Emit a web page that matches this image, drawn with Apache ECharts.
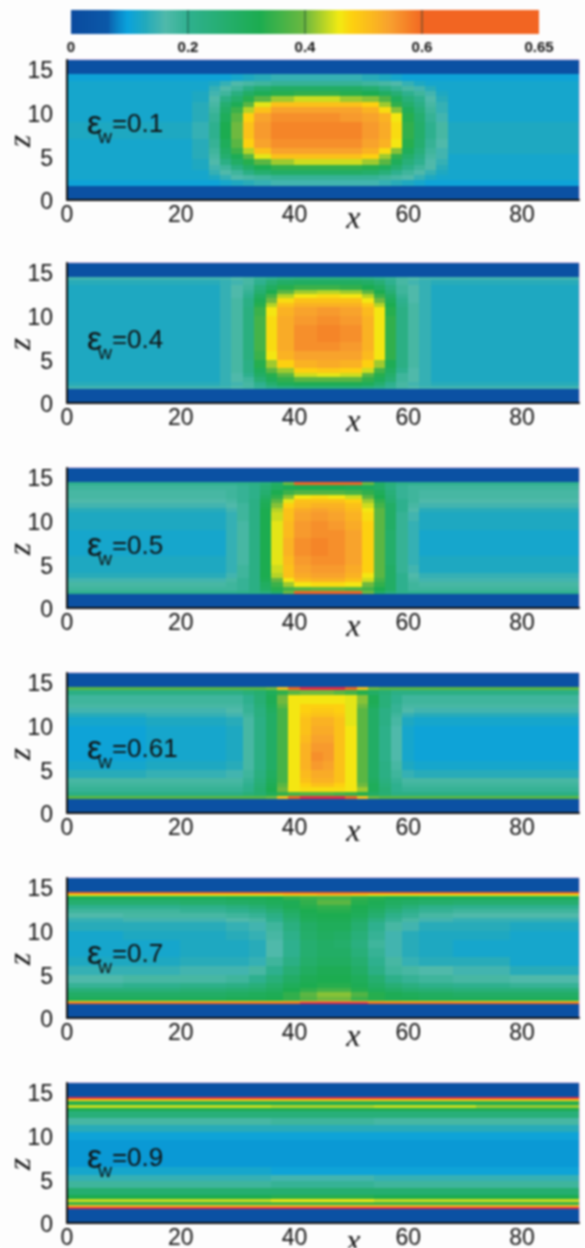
<!DOCTYPE html>
<html><head><meta charset="utf-8">
<style>html,body{margin:0;padding:0;background:#fdfdfd}#c{width:585px;height:1248px;filter:blur(0.9px)}</style>
<script src="https://cdn.jsdelivr.net/npm/echarts@6/dist/echarts.min.js"></script>
</head><body><div id="c"></div>
<script>
// colour scale (value → colour)
const scaleValues=[0,.06,.08,.095,.125,.16,.2,.32,.4,.456,.48,.544,.6,.65,.66];
const scaleColors=['#0a4a9e','#0b58a8','#0a86c8','#0aa2dc','#22a9bc','#4fb9aa','#2eb08e','#1cac50','#6fb93f','#f2ea12','#fdd010','#f8a02e','#f26522','#f26522','#e62a45'];
const barTickLabels=['0','0.2','0.4','0.6','0.65'];
const wallValue=3;
const panelLabels=['0.1','0.4','0.5','0.61','0.7','0.9'];
const panelTops=[60,263,468,673,878,1083];
const labelCentres=[123,339,545,748,953,1157];

const xE1=[0,22,25,27,29,31,33,36,40,44,48,52,55,57,59,61,63,65,67,90];
const zE1=[1.7,2.3,2.9,3.5,4.1,4.7,5.3,6,7,8,9,10,10.7,11.3,11.9,12.5,13.1,13.7,14.4];
const rows1=[
[10,10,10,11,12,13,14,15,15,15,15,15,14,13,12,11,10,10,10],
[11,11,12,14,16,17,18,19,19,19,19,19,18,17,16,14,12,11,11],
[11,11,14,16,18,22,26,28,28,28,28,27,24,20,18,16,14,12,11],
[11,12,15,18,23,28,32,34,34,34,34,33,30,26,21,18,16,13,11],
[11,12,16,22,28,33,38,42,44,44,44,42,38,30,24,20,16,14,11],
[11,13,17,26,31,38,45,50,50,50,50,48,42,34,27,22,17,15,11],
[11,13,18,28,35,43,50,54,54,54,54,52,47,41,30,24,18,15,12],
[11,13,19,30,38,48,54,56,56,56,56,54,52,46,33,26,19,16,12],
[12,14,20,32,40,50,55,57,57,57,57,55,53,47,34,27,20,17,12],
[12,14,20,32,40,50,55,57,57,57,57,55,53,47,34,27,20,17,12],
[11,13,19,30,38,48,54,56,56,56,55,54,52,46,33,26,19,15,11],
[11,13,18,28,35,43,50,54,54,54,54,52,47,41,30,24,18,14,11],
[11,13,17,26,31,38,45,50,50,50,50,48,42,34,27,22,17,14,11],
[11,12,16,22,27,33,38,42,44,44,42,41,37,30,24,20,16,13,11],
[11,12,15,18,23,28,31,33,34,34,33,32,29,25,20,18,15,12,11],
[11,11,14,16,18,22,26,28,28,28,28,26,22,19,17,15,13,11,11],
[11,11,12,14,16,17,18,19,19,19,19,18,17,16,14,12,11,11,11],
[10,10,10,10,11,12,13,14,14,14,14,13,12,11,10,10,10,10,10]];

const zE=[1.7,2,2.5,3,3.5,4,5,6,7,8,9,10,11,11.5,12,12.5,13,13.5,14.1,14.4];
const xE2=[0,27,29,31,33,35,37,40,44,48,52,54,56,58,60,62,64,90];
const rows2=[
[15,15,16,17,19,21,23,24,24,24,23,21,19,17,16,15,15],
[13,14,15,17,20,26,30,31,31,31,30,26,20,17,15,14,13],
[12,14,16,18,25,30,34,38,38,38,34,30,25,18,16,14,12],
[12,14,16,20,28,33,38,44,45,44,38,33,27,18,16,14,12],
[12,14,17,22,30,38,42,48,49,48,44,36,29,20,16,14,12],
[12,14,17,22,33,42,48,52,53,52,48,42,31,22,17,14,12],
[12,14,17,23,35,46,52,54,54,54,51,46,34,22,17,14,12],
[12,14,17,23,36,47,53,56,56,55,52,46,34,22,17,14,12],
[12,14,17,23,36,47,53,56,57,56,52,46,34,22,17,14,12],
[12,14,17,23,36,47,53,56,57,56,52,46,34,22,17,14,12],
[12,14,17,23,36,47,53,55,56,55,52,46,34,22,17,14,12],
[12,14,17,23,35,46,52,54,55,54,51,46,33,22,17,14,12],
[12,14,17,22,33,43,50,52,52,52,49,43,32,21,17,14,12],
[12,14,17,22,31,40,47,50,50,50,46,40,30,20,16,14,12],
[12,14,16,20,29,36,43,46,47,46,43,35,28,19,16,14,12],
[12,14,16,19,26,32,38,42,43,42,38,32,25,18,16,14,12],
[12,14,16,18,24,29,33,35,35,34,32,29,23,18,16,14,12],
[13,14,15,17,20,25,28,29,29,29,28,25,20,17,15,14,13],
[15,15,16,17,19,20,22,23,23,23,22,20,19,17,16,15,15]];

const xE3=[0,28,30,32,34,36,38,40,43,46,49,52,54,56,58,60,62,90];
const rows3=[
[20,20,21,22,24,28,40,60,62,62,60,40,28,24,21,20,20],
[18,18,19,22,28,33,36,37,38,38,37,36,32,28,20,18,18],
[17,18,19,22,29,35,42,46,47,47,46,40,34,28,20,18,17],
[15,17,19,22,31,39,46,51,52,52,50,44,36,28,20,17,15],
[13,15,18,22,32,43,50,53,54,54,52,46,38,28,20,16,14],
[12,14,18,22,32,44,50,54,55,55,53,48,38,28,19,15,12],
[12,14,17,22,32,45,51,55,56,56,54,48,38,27,19,14,12],
[11,14,17,22,32,45,52,56,57,56,54,48,38,27,19,14,11],
[11,14,17,22,32,45,52,56,57,56,54,48,38,27,19,14,11],
[11,14,17,22,32,45,51,55,56,56,54,48,38,27,19,14,11],
[12,14,17,22,32,45,51,55,56,55,53,48,38,28,19,14,12],
[12,14,18,22,32,44,50,54,55,54,52,47,38,28,19,15,12],
[13,15,18,22,32,43,50,53,54,53,51,46,38,28,20,16,13],
[15,16,18,22,31,41,48,51,52,52,50,44,36,28,20,17,15],
[16,17,19,22,30,38,45,50,50,50,48,42,34,26,20,18,16],
[17,18,19,21,28,34,41,46,47,46,44,38,32,25,19,18,17],
[17,18,19,21,26,32,35,37,37,37,36,34,30,24,19,18,17],
[18,18,19,21,25,29,31,32,32,32,31,30,28,23,19,18,18],
[20,20,21,22,24,28,40,60,62,62,60,40,28,24,21,20,20]];

const xE4=[0,14,28,31,33,35,37,39,41,43,45,47,49,51,53,55,57,59,61,90];
const rows4=[
[38,38,38,38,38,40,50,64,66,66,66,66,64,50,40,38,38,38,38],
[22,22,22,24,26,30,34,36,37,37,37,36,35,33,28,25,22,22,22],
[19,19,19,21,26,32,40,46,47,47,47,47,46,42,30,25,20,19,19],
[18,18,18,20,25,31,38,46,48,50,50,48,46,40,30,24,20,18,18],
[17,17,17,19,24,30,36,46,50,52,52,50,46,38,29,23,19,17,17],
[13,14,15,18,23,29,36,46,51,53,53,50,46,38,28,22,18,14,13],
[11,12,13,17,22,28,36,46,52,55,54,50,46,38,28,22,17,12,11],
[10,11,12,17,22,28,36,46,52,56,55,50,46,38,28,21,16,11,10],
[10,11,12,17,22,28,36,46,52,55,55,50,46,38,28,21,16,11,10],
[10,11,12,17,22,28,36,46,51,54,54,50,46,38,28,21,16,11,10],
[10,11,12,17,22,28,36,46,50,53,53,50,46,38,28,21,16,11,10],
[11,12,13,17,22,28,36,46,50,52,52,50,45,38,28,22,17,12,11],
[13,14,15,18,23,28,36,46,49,50,50,49,45,38,28,22,18,14,13],
[15,15,16,19,23,29,36,46,48,49,49,48,45,38,28,22,19,16,15],
[17,17,17,19,24,30,38,46,48,48,48,48,45,40,30,24,19,17,17],
[18,18,18,20,25,31,40,46,46,46,46,46,45,41,31,24,20,18,18],
[18,18,18,20,25,31,40,46,46,46,46,46,45,41,31,24,20,18,18],
[22,22,22,24,26,30,34,38,40,40,40,38,36,33,28,25,22,22,22],
[38,38,38,38,38,40,50,62,66,66,66,66,62,50,40,38,38,38,38]];

const xE5=[0,10,20,28,32,35,38,41,44,47,50,53,56,59,62,68,78,90];
const zE5=[1.7,1.85,2,2.5,3,3.5,4,5,6,7,8,9,10,11,11.5,12,12.5,13,13.5,14.05,14.25,14.4];
const rows5=[
[60,60,60,60,60,60,62,66,66,66,66,62,60,60,60,60,60],
[46,46,47,47,48,48,50,52,54,54,52,50,48,47,47,46,46],
[30,30,30,31,31,32,34,37,40,40,35,33,31,31,30,30,30],
[28,28,28,29,30,31,34,38,41,41,37,33,31,30,29,28,28],
[24,24,25,26,27,29,32,34,36,36,33,30,28,26,25,24,24],
[19,20,21,22,24,27,30,32,33,33,31,28,25,23,21,20,19],
[16,17,17,18,20,24,28,31,32,32,30,26,21,19,18,17,16],
[14,14,15,15,17,20,25,29,31,31,28,22,18,17,16,15,13],
[12,12,13,13,14,18,22,27,29,29,26,20,17,14,13,13,11],
[11,11,12,12,13,16,20,26,28,28,24,19,15,13,12,11,11],
[11,11,12,12,13,16,20,26,28,27,23,18,15,13,12,11,11],
[11,12,12,13,14,17,21,27,29,28,24,19,15,13,12,12,11],
[13,13,13,14,15,18,23,28,30,30,26,20,17,15,13,13,12],
[14,15,15,16,17,20,25,30,31,31,28,23,19,17,15,14,14],
[16,17,17,18,19,22,27,31,32,32,30,26,21,19,17,16,16],
[18,18,19,20,22,25,29,32,33,33,31,28,24,21,19,18,18],
[20,20,21,23,25,28,31,33,34,34,32,30,27,24,21,20,20],
[26,26,27,28,29,30,31,34,38,38,33,31,29,28,27,26,26],
[30,30,30,31,31,32,34,35,36,36,34,33,31,31,30,30,30],
[46,46,46,46,46,46,48,48,50,50,48,46,46,46,46,46,46],
[60,60,60,60,60,60,62,62,64,64,62,60,60,60,60,60,60]];

const xE6=[0,18,36,54,72,90];
const zE6=[1.7,1.85,2.1,2.3,2.5,2.8,3.3,4,4.8,5.5,6.5,7.5,8.5,9.5,10.5,11.3,12,12.8,13.2,13.5,13.8,14,14.2,14.4];
const rows6=[
[66,66,66,66,66],
[50,50,50,50,50],
[34,34,34,34,34],
[36,36,37,36,36],
[44,44,46,44,44],
[32,32,33,32,32],
[26,26,26,26,26],
[18,18,19,18,18],
[14,14,15,14,14],
[11,11,10,10,10],
[9,9,9,9,9],
[9,9,9,9,9],
[9,9,9,9,9],
[10,10,10,10,10],
[13,13,13,13,13],
[17,17,18,17,17],
[24,24,24,24,24],
[32,32,32,32,32],
[44,44,43,44,42],
[32,32,32,32,32],
[34,34,34,34,34],
[48,48,48,48,48],
[66,66,66,66,66]];

const panels=[[xE1,zE1,rows1],[xE2,zE,rows2],[xE3,zE,rows3],[xE4,zE,rows4],[xE5,zE5,rows5],[xE6,zE6,rows6]];

function colorOf(v){
  for(let i=1;i<scaleValues.length;i++){
    if(v<=scaleValues[i]) return echarts.color.lerp((v-scaleValues[i-1])/(scaleValues[i]-scaleValues[i-1]),[scaleColors[i-1],scaleColors[i]]);
  }
  return scaleColors[scaleColors.length-1];
}
function cellsOf(xs,zs,rows){
  const out=[];
  const allZ=[0,...zs,16];
  const allRows=[xs.slice(1).map(()=>wallValue),...rows,xs.slice(1).map(()=>wallValue)];
  allRows.forEach((r,j)=>r.forEach((v,i)=>out.push([xs[i],xs[i+1],allZ[j],allZ[j+1],v/100])));
  return out;
}
function renderCell(p,api){
  const a=api.coord([api.value(0),api.value(2)]),b=api.coord([api.value(1),api.value(3)]);
  const x0=Math.floor(a[0]),x1=Math.ceil(b[0]),y1=Math.ceil(a[1]),y0=Math.floor(b[1]);
  return {type:'rect',shape:{x:x0,y:y0,width:x1-x0,height:y1-y0},style:{fill:colorOf(api.value(4))}};
}
const sans='"Liberation Sans",Arial,sans-serif', serif='"Liberation Serif",serif';
const grids=[],xAxes=[],yAxes=[],series=[],titles=[];
panels.forEach((p,k)=>{
  grids.push({left:67,width:512,top:panelTops[k],height:140,outerBoundsMode:'none',show:true,borderColor:'#d890d0',borderWidth:1,backgroundColor:'transparent'});
  xAxes.push({gridIndex:k,type:'value',min:0,max:90,interval:10,z:5,
    axisLine:{show:true,lineStyle:{color:'#111',width:2}},axisTick:{show:false},splitLine:{show:false},
    axisLabel:{margin:4,color:'#111',fontFamily:sans,fontSize:23,showMaxLabel:false,
      formatter:v=>(v===50?'{x|x}':(v%20===0&&v<90?String(v):'')),
      rich:{x:{fontFamily:serif,fontStyle:'italic',fontSize:32,color:'#111',padding:[0,0,12,4]}}}});
  yAxes.push({gridIndex:k,type:'value',min:0,max:16,interval:5,z:5,name:'{z|z}',nameLocation:'middle',nameGap:29,nameMoveOverlap:false,nameRotate:90,
    nameTextStyle:{rich:{z:{fontFamily:serif,fontStyle:'italic',fontSize:32,color:'#111',padding:[0,22,0,0]}}},
    axisLine:{show:true,lineStyle:{color:'#111',width:2}},axisTick:{show:false},splitLine:{show:false},
    axisLabel:{margin:14,color:'#111',fontFamily:sans,fontSize:23,showMaxLabel:false,
      formatter:v=>(v%5===0?'{t|'+v+'}':''),
      rich:{t:{fontFamily:sans,fontSize:23,color:'#111',padding:[6,0,0,0]}}}});
  series.push({type:'custom',xAxisIndex:k,yAxisIndex:k,clip:true,silent:true,renderItem:renderCell,
    encode:{x:[0,1],y:[2,3]},data:cellsOf(p[0],p[1],p[2])});
  titles.push({left:82,top:labelCentres[k]-20,text:'{e|ε}{w|w}{v|='+panelLabels[k]+'}',
    textStyle:{fontWeight:'normal',rich:{e:{fontFamily:sans,fontWeight:'normal',fontSize:34,color:'#111',lineHeight:34},
      w:{fontFamily:sans,fontWeight:'normal',fontSize:19,color:'#111',lineHeight:20,padding:[26,0,0,-4]},
      v:{fontFamily:sans,fontWeight:'normal',fontSize:26,color:'#111',lineHeight:34}}}});
});
// colour bar: 0–0.6 fills three quarters of its length, 0.6–0.65 the last quarter
const barCells=[];
for(let c=0;c<120;c++) barCells.push([c/40,(c+1)/40,0,1,c/200]);
barCells.push([3,4,0,1,.6]);
const barIdx=panels.length;
grids.push({left:71,width:468,top:10,height:24,outerBoundsMode:'none',show:false});
xAxes.push({gridIndex:barIdx,type:'value',min:0,max:4,interval:1,z:5,axisLine:{show:false},axisTick:{show:false},splitLine:{show:false},
  axisLabel:{margin:6,color:'#111',fontFamily:sans,fontWeight:'bold',fontSize:15,formatter:v=>barTickLabels[v]}});
yAxes.push({gridIndex:barIdx,type:'value',min:0,max:1,show:false});
series.push({type:'custom',xAxisIndex:barIdx,yAxisIndex:barIdx,silent:true,renderItem:renderCell,encode:{x:[0,1],y:[2,3]},data:barCells});
series.push({type:'custom',xAxisIndex:barIdx,yAxisIndex:barIdx,silent:true,z:4,encode:{x:0},data:[[1],[2],[3]],
  renderItem:(p,api)=>{const a=api.coord([api.value(0),0]),b=api.coord([api.value(0),1]);
    return {type:'line',shape:{x1:a[0],y1:a[1],x2:b[0],y2:b[1]},style:{stroke:'rgba(20,60,50,.75)',lineWidth:1}};}});
const chart=echarts.init(document.getElementById('c'),null,{renderer:'canvas'});
chart.setOption({animation:false,backgroundColor:'#fdfdfd',title:titles,grid:grids,xAxis:xAxes,yAxis:yAxes,series:series});
</script></body></html>
